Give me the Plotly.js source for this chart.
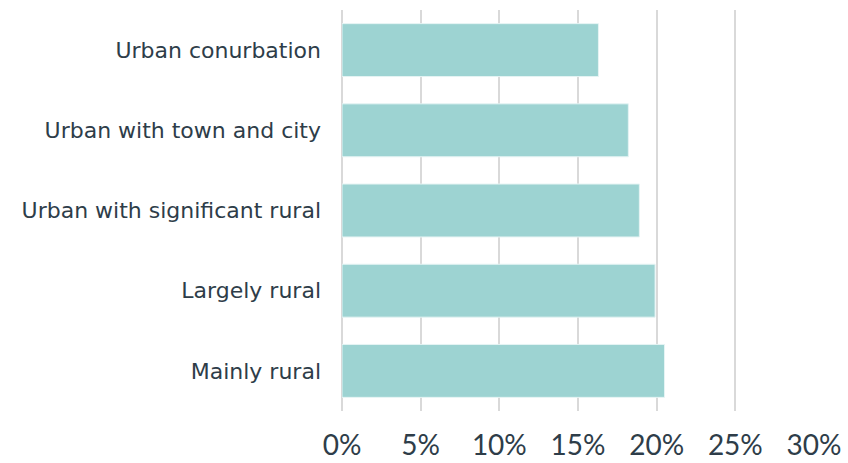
<!DOCTYPE html>
<html><head><meta charset="utf-8">
<script src="https://cdn.plot.ly/plotly-3.0.1.min.js"></script>
<style>html,body{margin:0;padding:0;background:#fff}#chart{width:848px;height:463px}</style>
</head><body><div id="chart"></div>
<script>
const categories = ["Urban conurbation","Urban with town and city","Urban with significant rural","Largely rural","Mainly rural"];
const values = [16.3, 18.2, 18.9, 19.9, 20.5];
const tickVals = [0,5,10,15,20,25,30];
const tickText = ["0%","5%","10%","15%","20%","25%","30%"];

Plotly.newPlot('chart', [{
  type: 'bar', orientation: 'h',
  x: values, y: categories,
  marker: {color: '#9dd3d2', line: {color: '#e6f4f4', width: 1}},
  hoverinfo: 'x+y'
}], {
  width: 848, height: 463,
  margin: {l: 342, r: 34, t: 10, b: 52},
  paper_bgcolor: '#fff', plot_bgcolor: '#fff',
  bargap: 0.34,
  showlegend: false,
  font: {family: 'Lato, "Open Sans", sans-serif', color: '#2e3d49'},
  xaxis: {
    range: [0, 30], tickvals: tickVals, ticktext: tickText,
    showgrid: true, gridcolor: '#d9d9d9', gridwidth: 2,
    zeroline: true, zerolinecolor: '#d9d9d9', zerolinewidth: 2,
    showline: false, ticks: '', tickfont: {size: 28, color: '#2e3d49'},
    ticklabelstandoff: 15, fixedrange: true
  },
  yaxis: {
    autorange: 'reversed', showgrid: false, zeroline: false, showline: false,
    ticks: '', tickfont: {family: '"DejaVu Sans", sans-serif', size: 22, color: '#2e3d49'}, ticklabelstandoff: 20,
    fixedrange: true
  }
}, {displayModeBar: false, staticPlot: true});
</script></body></html>
